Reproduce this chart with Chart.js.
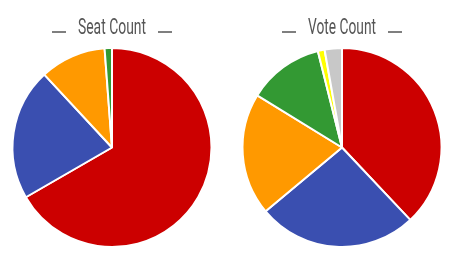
<!DOCTYPE html>
<html lang="en">
<head>
    <meta charset="UTF-8">
    <title>Seat Count / Vote Count</title>
    <script src="https://cdn.jsdelivr.net/npm/chart.js"></script>
    <style>
        body { margin: 0; background: #fff; }
        .charts { display: flex; width: 459px; height: 268px; }
        .box { position: relative; height: 268px; }
    </style>
</head>
<body>
    <div class="charts">
        <div class="box" style="width:229px"><canvas id="seats"></canvas></div>
        <div class="box" style="width:230px"><canvas id="votes"></canvas></div>
    </div>
    <script>
        // party colours, same order in both pies
        const seatColors = ['#cc0000', '#3a4fb0', '#ff9900', '#339933'];
        const seatValues = [56, 18, 9, 1];

        const voteColors = ['#cc0000', '#3a4fb0', '#ff9900', '#339933', '#ffff00', '#c8c8c8'];
        const voteValues = [37.9, 25.9, 19.8, 12.3, 1.1, 2.8];

        // condensed title with a short rule on each side (no condensed font installed)
        const dashTitle = {
            id: 'dashTitle',
            afterDraw(chart, args, opts) {
                const ctx = chart.ctx;
                const cx = (chart.chartArea.left + chart.chartArea.right) / 2;
                ctx.save();
                ctx.fillStyle = '#555555';
                ctx.font = '22px Roboto, sans-serif';
                ctx.textBaseline = 'alphabetic';
                ctx.textAlign = 'center';
                const w = ctx.measureText(opts.text).width;
                const sx = opts.width / w;
                ctx.translate(cx, 34);
                ctx.scale(sx, 1);
                ctx.fillText(opts.text, 0, 0);
                ctx.restore();

                ctx.save();
                ctx.strokeStyle = '#555555';
                ctx.lineWidth = 1.5;
                ctx.beginPath();
                ctx.moveTo(cx - 60, 32); ctx.lineTo(cx - 46, 32);
                ctx.moveTo(cx + 46, 32); ctx.lineTo(cx + 60, 32);
                ctx.stroke();
                ctx.restore();
            }
        };

        function makePie(id, title, values, colors, padRight) {
            new Chart(document.getElementById(id), {
                type: 'pie',
                data: {
                    labels: values.map((v, i) => 'p' + i),
                    datasets: [{
                        data: values,
                        backgroundColor: colors,
                        borderColor: '#ffffff',
                        borderWidth: 2
                    }]
                },
                options: {
                    responsive: true,
                    maintainAspectRatio: false,
                    animation: false,
                    events: [],
                    layout: { padding: { top: 47, bottom: 20, left: 0, right: padRight } },
                    plugins: {
                        legend: { display: false },
                        tooltip: { enabled: false },
                        title: { display: false },
                        dashTitle: { text: title, width: 68 }
                    }
                },
                plugins: [dashTitle]
            });
        }

        makePie('seats', 'Seat Count', seatValues, seatColors, 5);
        makePie('votes', 'Vote Count', voteValues, voteColors, 4);
    </script>
</body>
</html>
